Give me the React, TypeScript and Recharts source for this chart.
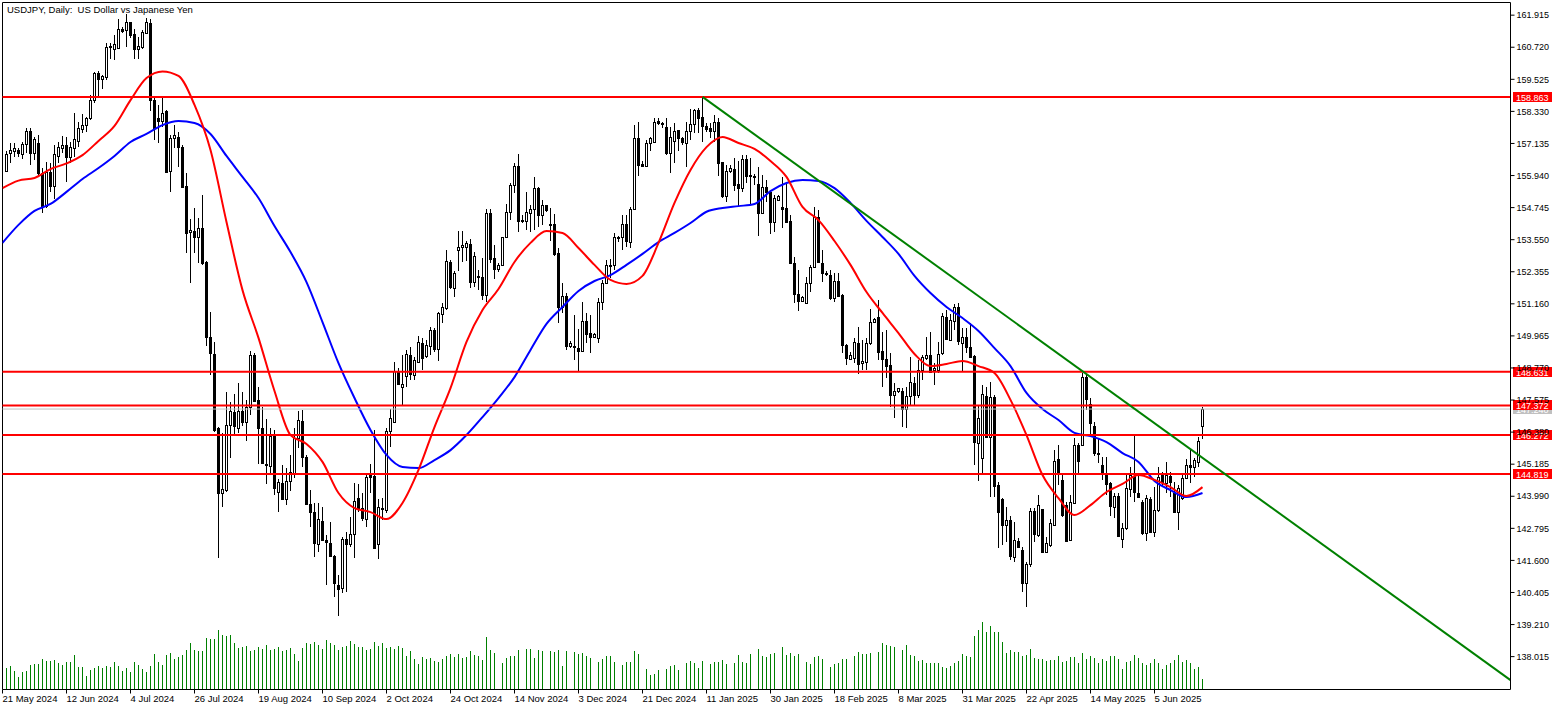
/**
 * USDJPY daily candles with two moving averages, tick volume,
 * support / resistance levels and a falling trend line.
 */

import { Bar, ComposedChart, Line, ReferenceLine, XAxis, YAxis } from "recharts";

const opens = [
  156.12,156.77,156.87,156.89,156.74,157.10,157.60,156.77,157.14,156.02,
  154.80,156.08,155.55,156.67,156.97,157.07,156.64,156.95,157.24,157.69,
  157.81,158.07,158.75,159.75,159.52,159.60,160.77,160.67,160.70,161.39,
  161.36,161.65,161.21,160.67,160.74,161.24,161.61,158.75,158.07,157.98,
  158.34,156.12,157.33,157.36,157.02,155.55,153.84,153.87,153.64,153.97,
  152.71,149.91,149.29,146.52,144.10,144.23,146.63,147.12,146.52,147.17,
  146.77,147.31,149.26,147.58,146.52,145.19,145.12,146.27,144.16,144.47,
  143.88,144.55,144.87,146.15,146.81,145.44,143.70,143.39,142.20,143.06,
  142.36,142.24,141.77,140.69,140.56,142.39,142.20,142.57,143.92,143.54,
  143.13,144.78,144.75,142.20,143.57,143.48,146.42,146.77,148.67,148.07,
  148.47,149.24,148.51,148.98,149.69,149.23,149.59,150.18,149.46,150.77,
  151.02,152.71,151.74,153.15,153.26,153.26,153.38,151.97,152.18,152.15,
  151.50,154.53,152.85,152.47,152.61,153.64,154.57,155.57,156.30,154.28,
  154.26,154.56,154.68,155.49,154.47,154.83,154.12,154.12,153.04,151.05,
  151.45,149.59,149.58,149.50,149.41,150.51,150.06,149.94,149.87,151.22,
  151.92,152.59,152.61,153.64,153.64,154.13,153.48,154.68,157.33,156.36,
  156.30,157.14,157.20,157.97,157.89,157.74,156.79,157.24,157.62,157.33,
  157.14,157.61,157.85,158.38,158.11,157.80,157.70,157.61,157.95,156.43,
  155.18,156.11,156.18,155.61,155.49,156.56,155.96,155.93,155.61,154.56,
  155.50,155.34,154.22,155.03,154.78,154.72,154.23,152.69,151.51,151.28,
  151.18,151.93,152.54,154.41,152.69,152.30,152.22,151.36,152.01,151.49,
  149.63,149.10,149.15,149.69,148.94,149.00,149.69,150.50,150.66,149.40,
  149.09,148.88,147.76,147.91,147.91,147.23,147.74,148.22,147.76,148.69,
  149.15,149.25,148.69,148.69,149.32,150.66,149.81,150.53,151.03,149.69,
  149.91,149.56,149.22,145.99,145.40,147.72,146.19,147.70,144.41,143.88,
  142.92,143.10,141.74,142.32,141.99,140.75,141.45,143.44,142.55,143.51,
  141.92,142.17,142.92,145.38,144.60,143.66,142.36,143.73,145.90,145.90,
  148.45,147.41,146.62,145.60,145.17,144.81,144.47,143.60,144.00,142.40,
  142.79,144.26,144.76,144.13,143.76,142.61,143.89,142.67,143.48,144.79,
  144.47,144.76,144.13,143.41,143.91,144.66,145.17,145.07,145.28,146.62,
];

const highs = [
  156.87,157.14,157.16,156.95,157.20,157.70,157.70,157.39,157.45,156.21,
  156.46,156.39,157.08,157.20,157.41,157.36,157.20,158.26,157.95,158.23,
  158.13,158.94,159.81,159.85,159.69,160.87,160.87,161.18,161.76,161.49,
  161.96,161.67,161.39,161.11,161.36,161.80,161.76,158.88,158.57,158.82,
  158.38,157.45,157.82,157.57,157.08,156.02,154.31,154.72,154.35,155.21,
  152.75,150.87,149.75,146.58,146.34,147.89,147.52,147.79,148.20,147.89,
  147.58,149.40,149.32,148.05,147.33,146.86,146.52,146.46,144.64,145.16,
  145.03,145.53,146.52,147.17,147.21,145.53,144.23,143.75,143.73,143.60,
  142.55,143.02,141.80,141.06,142.49,142.67,143.23,144.47,144.45,144.10,
  144.85,145.19,146.46,143.88,143.92,146.52,147.24,148.98,148.76,149.25,
  149.44,149.54,149.19,149.96,149.87,149.81,150.31,150.25,150.87,151.20,
  153.17,152.79,152.40,153.87,153.87,153.50,153.58,153.08,152.42,152.85,
  154.68,154.68,153.35,152.67,153.66,154.88,155.65,156.42,156.74,154.47,
  155.34,154.84,155.90,155.52,155.03,154.84,154.72,154.49,153.23,151.92,
  151.55,149.77,150.74,150.22,151.22,150.83,150.74,150.06,151.36,152.05,
  152.79,152.82,153.79,153.69,154.47,154.47,154.78,157.82,157.92,156.50,
  157.26,157.39,158.07,158.07,157.95,158.07,157.76,157.88,157.64,157.39,
  157.95,158.41,158.42,158.44,158.88,157.88,157.88,158.20,158.07,156.46,
  156.33,156.33,156.58,156.49,156.70,156.70,156.58,156.00,156.25,155.96,
  155.77,155.40,155.21,155.21,155.87,155.71,154.47,152.92,152.42,151.45,
  152.17,152.61,154.78,154.66,153.17,152.38,152.42,152.30,152.32,151.53,
  149.66,149.38,149.87,150.28,149.81,149.87,150.95,150.62,151.30,150.12,
  150.18,149.31,148.20,148.04,148.01,148.07,149.19,148.45,149.07,149.25,
  149.94,150.12,148.94,149.75,150.81,150.93,150.78,151.15,151.18,150.25,
  150.25,150.43,149.25,147.39,148.14,148.07,148.26,147.76,144.53,143.91,
  143.60,143.25,143.04,142.42,142.11,141.55,143.54,143.54,144.04,143.51,
  142.48,143.13,145.71,145.90,144.78,143.79,144.04,146.17,145.96,148.59,
  148.51,147.64,146.77,146.15,145.46,145.46,144.53,144.10,144.10,142.98,
  144.82,145.07,146.23,144.78,143.85,144.04,143.97,144.35,145.09,144.91,
  145.27,144.91,144.53,144.41,144.78,145.38,145.71,145.40,146.21,147.33,
];

const lows = [
  156.10,156.40,156.64,156.64,156.54,156.77,156.33,156.52,155.96,154.53,
  154.72,155.34,155.05,156.39,156.79,155.71,156.39,156.64,157.02,157.51,
  157.57,158.01,158.63,158.88,159.15,159.50,160.27,160.24,160.68,161.24,
  160.74,161.05,160.27,160.27,160.65,161.21,158.36,157.26,157.14,157.76,
  156.02,155.34,156.95,156.27,155.50,153.04,151.92,153.04,152.67,152.61,
  149.57,148.51,146.40,141.68,143.60,144.16,145.41,146.31,146.34,146.59,
  146.06,147.02,147.52,145.18,145.18,144.44,144.85,144.04,143.42,143.90,
  143.67,144.20,144.66,145.78,145.09,143.67,142.83,141.74,141.93,142.36,
  140.69,141.74,140.25,139.54,140.40,140.44,142.11,141.70,143.42,143.05,
  142.86,144.10,142.01,141.64,143.11,143.36,145.82,146.71,148.14,147.39,
  148.07,148.32,148.32,148.94,148.69,149.13,149.25,149.38,149.04,150.43,
  150.93,151.70,151.43,152.40,152.73,152.76,151.74,151.77,151.67,151.30,
  151.24,152.67,152.09,152.36,152.57,153.60,154.28,155.30,153.85,154.16,
  153.91,153.85,153.91,154.03,154.10,154.59,153.50,152.94,150.43,150.80,
  149.44,149.50,149.07,148.63,149.38,149.69,149.34,149.87,149.69,150.93,
  151.90,152.11,152.42,153.48,153.17,153.27,153.23,154.66,155.92,156.25,
  156.27,156.85,157.18,157.82,157.70,156.70,156.02,156.42,156.85,157.08,
  156.25,157.26,157.51,157.51,157.20,157.57,157.33,157.20,155.92,155.09,
  154.97,156.02,155.36,154.78,155.34,155.68,154.84,155.59,153.69,154.51,
  154.97,153.76,153.85,154.99,153.97,154.16,152.64,151.18,150.91,151.24,
  151.15,151.61,152.52,152.67,151.99,152.20,151.30,151.24,151.43,149.32,
  148.88,149.07,148.94,148.55,148.70,148.70,149.63,150.43,149.07,148.07,
  148.38,147.33,146.89,147.83,146.58,146.52,147.39,147.39,147.64,148.32,
  149.07,148.61,148.14,148.57,149.25,149.81,149.79,150.18,149.63,148.63,
  149.31,149.13,145.15,144.54,144.84,146.15,143.97,143.97,142.05,142.17,
  142.30,141.62,141.55,142.09,140.44,139.85,141.37,142.30,142.48,141.89,
  141.89,142.09,142.89,144.41,143.20,142.33,142.33,143.70,144.84,145.86,
  147.20,146.27,145.49,145.22,144.60,144.04,143.25,143.17,142.48,142.07,
  142.73,143.97,143.79,143.91,142.55,142.32,142.61,142.48,143.41,144.35,
  144.10,143.97,143.35,142.73,143.85,144.62,144.47,144.72,145.07,146.11,
];

const closes = [
  156.73,156.88,156.95,156.77,157.11,157.60,156.77,157.30,156.02,154.80,
  156.08,155.55,156.74,156.99,157.07,156.64,157.02,157.29,157.70,157.81,
  158.10,158.75,159.75,159.52,159.65,160.74,160.72,160.83,161.39,161.34,
  161.65,161.19,160.67,160.77,161.28,161.65,158.75,157.70,157.98,158.26,
  156.07,157.33,157.44,156.99,155.53,153.81,153.91,153.66,153.97,152.67,
  149.94,149.32,146.46,144.10,144.25,146.63,147.17,146.59,147.17,146.77,
  147.31,149.26,147.54,146.52,145.22,145.17,146.24,144.28,144.51,143.90,
  144.55,144.91,146.15,146.83,145.44,143.69,143.39,142.24,143.13,142.36,
  142.30,141.78,140.77,140.54,142.39,142.21,142.57,143.80,143.54,143.17,
  144.72,144.72,142.05,143.58,143.53,146.44,146.91,148.67,148.16,148.16,
  149.29,148.53,149.07,149.72,149.15,149.62,150.18,149.46,150.81,151.05,
  152.76,151.80,152.30,153.26,153.34,153.41,151.99,152.95,152.15,151.50,
  154.53,152.84,152.47,152.61,153.64,154.57,155.57,156.30,154.26,154.26,
  154.57,154.68,155.46,154.47,154.83,154.66,154.11,153.02,151.05,151.45,
  149.59,149.69,149.54,149.41,150.51,150.04,149.94,150.02,151.22,151.92,
  152.61,152.62,153.64,153.60,154.12,153.51,154.68,157.33,156.33,156.31,
  157.14,157.33,157.95,157.89,157.86,156.79,157.36,157.61,157.33,157.18,
  157.61,157.85,158.38,158.10,157.80,157.66,157.61,157.95,156.42,155.18,
  156.12,156.21,155.59,155.49,156.54,155.92,155.92,155.91,154.56,155.50,
  155.33,154.22,155.09,155.18,154.68,154.22,152.67,151.51,151.28,151.43,
  151.93,152.54,154.41,152.72,152.30,152.28,151.39,152.01,151.45,149.63,
  149.13,149.25,149.73,148.92,149.04,149.69,150.50,150.60,149.38,149.09,
  148.84,147.76,147.92,148.01,147.23,147.74,148.23,147.76,148.69,149.17,
  149.24,148.63,148.76,149.29,150.71,149.85,150.56,151.03,149.79,149.91,
  149.56,149.19,146.02,146.89,147.79,146.19,147.68,144.39,143.42,142.93,
  143.10,141.77,142.36,142.11,140.75,141.47,143.44,142.57,143.66,141.92,
  142.24,142.98,145.30,144.91,143.29,142.33,143.79,145.90,145.30,148.45,
  147.60,146.71,145.59,145.58,144.84,144.45,143.64,144.00,142.52,142.79,
  144.28,144.78,144.16,143.97,142.61,143.91,142.66,143.48,144.72,144.53,
  144.78,144.51,143.41,144.28,144.66,145.17,145.07,145.34,146.05,147.24,
];

// tick volume
const volumes = [
  22,24,19,13,18,19,25,26,26,31,29,29,30,27,25,28,28,35,23,23,
  14,20,22,24,22,24,23,28,24,19,22,18,28,25,21,18,24,36,28,25,
  35,37,31,33,35,40,47,40,39,39,52,51,51,60,55,54,55,47,42,43,
  44,39,40,43,41,45,40,41,43,39,40,42,36,29,42,47,46,48,45,41,
  50,47,45,40,43,44,49,46,43,43,40,41,48,44,47,42,43,41,44,42,
  34,39,31,26,33,31,32,29,28,31,34,36,33,36,32,33,39,35,34,30,
  53,40,37,0,27,32,34,34,40,0,41,41,32,40,39,0,39,38,40,24,
  39,1,38,36,37,34,32,0,28,31,34,34,28,0,25,28,28,39,36,0,
  21,15,16,20,0,21,24,25,20,0,27,29,27,22,29,0,26,28,28,30,
  26,0,27,35,28,27,36,0,41,34,33,36,37,1,43,35,37,34,36,0,
  28,26,33,34,31,0,23,26,27,31,31,0,34,38,36,36,37,0,38,47,
  45,44,43,0,40,45,35,34,29,30,27,27,27,27,23,22,24,27,29,36,
  34,33,54,60,68,58,64,58,58,48,37,40,38,38,34,35,41,32,31,31,
  29,30,30,34,28,29,33,33,27,37,31,34,32,27,31,29,34,34,31,21,
  28,29,35,32,27,25,27,31,27,21,25,27,30,35,28,30,27,21,23,11,
];

// moving averages every fourth bar, from bar -1 to bar 299
const fastMa = [
  155.47,155.75,155.85,156.18,156.39,156.70,157.23,157.79,158.75,159.57,
  159.82,159.65,158.57,156.89,154.21,151.67,149.89,147.91,146.27,145.94,
  145.27,144.11,143.55,143.40,143.14,143.74,144.97,146.57,148.02,149.74,
  150.93,151.71,152.72,153.43,153.87,153.80,153.24,152.61,152.05,151.90,
  152.20,153.43,154.92,156.15,157.00,157.38,157.15,156.93,156.48,155.89,
  154.77,154.28,153.50,152.61,151.60,150.82,150.07,149.29,148.84,148.92,
  149.03,148.84,148.58,147.58,146.27,144.78,143.92,143.29,143.66,144.15,
  144.45,144.78,144.60,144.33,144.00,144.33,
];

const slowMa = [
  153.43,154.10,154.62,154.88,155.33,155.81,156.22,156.67,157.19,157.49,
  157.82,157.97,157.90,157.49,156.67,155.89,155.10,154.06,153.09,151.97,
  150.48,148.95,147.65,146.46,145.53,145.08,145.04,145.34,145.71,146.27,
  146.94,147.65,148.43,149.44,150.41,151.04,151.64,152.01,152.23,152.61,
  153.02,153.46,153.80,154.17,154.59,154.73,154.80,154.88,155.36,155.66,
  155.77,155.74,155.47,154.92,154.25,153.65,153.02,152.20,151.56,151.04,
  150.63,150.15,149.51,148.84,147.84,147.24,146.83,146.35,146.23,146.01,
  145.60,145.27,144.56,144.22,143.96,144.11,
];

const levels = [158.863, 148.631, 147.372, 146.272, 144.819];
const lastPrice = 147.24;
const trendStart = { x: 174, y: 158.87 };
const trendEnd = { x: 376, y: 137.14 };

const priceTicks = [
  161.915, 160.72, 159.525, 158.33, 157.135, 155.94, 154.745, 153.55, 152.355, 151.16, 149.965,
  148.77, 147.575, 146.38, 145.185, 143.99, 142.795, 141.6, 140.405, 139.21, 138.015,
];

const dateTicks = [-1, 15, 31, 47, 63, 79, 95, 111, 127, 143, 159, 175, 191, 207, 223, 239, 255, 271, 287];
const dateLabels = [
  "21 May 2024", "12 Jun 2024", "4 Jul 2024", "26 Jul 2024", "19 Aug 2024", "10 Sep 2024", "2 Oct 2024",
  "24 Oct 2024", "14 Nov 2024", "3 Dec 2024", "21 Dec 2024", "11 Jan 2025", "30 Jan 2025", "18 Feb 2025",
  "8 Mar 2025", "31 Mar 2025", "22 Apr 2025", "14 May 2025", "5 Jun 2025",
];

const rows = opens.map((open, i) => ({
  x: i,
  open,
  close: closes[i],
  high: highs[i],
  low: lows[i],
  range: [lows[i], highs[i]],
  volume: volumes[i],
}));

const maRows = fastMa.map((fast, k) => ({ x: k * 4 - 1, fast, slow: slowMa[k] }));

const FONT = '"Liberation Sans", Arial, sans-serif';
const PRICE_MIN = 136.79;
const PRICE_MAX = 162.387;

function Candle(props: any) {
  const { x, y, width, height, payload } = props;
  if (!payload || height == null) return null;
  const { open, close, high, low } = payload;
  const perUnit = height / (high - low);
  const yOf = (p: number) => y + (high - p) * perUnit;
  const cx = Math.floor(x + width / 2) + 0.5;
  const top = Math.round(yOf(Math.max(open, close))) + 0.5;
  const bottom = Math.round(yOf(Math.min(open, close))) + 0.5;
  const up = close >= open;
  return (
    <g shapeRendering="crispEdges">
      <line x1={cx} x2={cx} y1={Math.round(y)} y2={Math.round(y + height)} stroke="#000" />
      <rect
        x={cx - 1}
        y={top}
        width={2}
        height={Math.max(bottom - top, 1)}
        fill={up ? "#fff" : "#000"}
        stroke="#000"
      />
    </g>
  );
}

function VolumeBar(props: any) {
  const { x, y, width, height } = props;
  if (!height) return null;
  return (
    <rect
      x={Math.floor(x + width / 2)}
      y={y}
      width={1}
      height={height}
      fill="#008000"
      shapeRendering="crispEdges"
    />
  );
}

function PriceTag({ viewBox, value, color }: any) {
  const right = viewBox.x + viewBox.width;
  const y = Math.round(viewBox.y);
  return (
    <g>
      <rect x={right + 2.5} y={y - 5} width={39} height={10} fill={color} shapeRendering="crispEdges" />
      <text x={right + 5.5} y={y + 3.5} fill="#fff" fontSize={9} fontFamily={FONT}>
        {value}
      </text>
    </g>
  );
}

function DateTick({ x, y, payload }: any) {
  return (
    <text x={x} y={y + 6} fill="#000" fontSize={9.5} fontFamily={FONT} textAnchor="start">
      {dateLabels[dateTicks.indexOf(payload.value)]}
    </text>
  );
}

export default function App() {
  return (
    <div style={{ position: "relative", width: 1563, height: 710, background: "#fff" }}>
      <style>{"body{margin:0}"}</style>
      <ComposedChart
        width={1563}
        height={710}
        data={rows}
        margin={{ top: 2.5, right: 0, bottom: 0, left: 2.5 }}
      >
        <XAxis
          xAxisId="time"
          dataKey="x"
          type="number"
          domain={[-1, 376]}
          ticks={dateTicks}
          interval={0}
          height={20.5}
          tickSize={4}
          tickLine={{ stroke: "#000" }}
          axisLine={{ stroke: "#000" }}
          tick={<DateTick />}
          allowDataOverflow
        />
        <XAxis xAxisId="vol" dataKey="x" type="number" domain={[-1, 376]} hide allowDataOverflow />
        <YAxis
          yAxisId="price"
          orientation="right"
          type="number"
          domain={[PRICE_MIN, PRICE_MAX]}
          ticks={priceTicks}
          interval={0}
          width={52.5}
          tickSize={4}
          tickMargin={2}
          tickLine={{ stroke: "#000" }}
          axisLine={{ stroke: "#000" }}
          tick={{ fill: "#000", fontSize: 9, fontFamily: FONT }}
          tickFormatter={(v: number) => v.toFixed(3)}
          allowDataOverflow
        />
        <YAxis yAxisId="vol" type="number" domain={[0, 687]} hide allowDataOverflow />

        <ReferenceLine xAxisId="time" yAxisId="price" x={-1} stroke="#000" />
        <ReferenceLine xAxisId="time" yAxisId="price" y={PRICE_MAX} stroke="#000" />

        <Bar
          xAxisId="vol"
          yAxisId="vol"
          dataKey="volume"
          barSize={1}
          shape={<VolumeBar />}
          isAnimationActive={false}
        />
        <Bar
          xAxisId="time"
          yAxisId="price"
          dataKey="range"
          barSize={3}
          shape={<Candle />}
          isAnimationActive={false}
        />

        <Line
          xAxisId="time"
          yAxisId="price"
          data={maRows}
          dataKey="slow"
          type="monotone"
          stroke="#0000ff"
          strokeWidth={2}
          dot={false}
          isAnimationActive={false}
        />
        <Line
          xAxisId="time"
          yAxisId="price"
          data={maRows}
          dataKey="fast"
          type="monotone"
          stroke="#ff0000"
          strokeWidth={2}
          dot={false}
          isAnimationActive={false}
        />

        <ReferenceLine
          xAxisId="time"
          yAxisId="price"
          y={lastPrice}
          stroke="#c0c0c0"
          label={<PriceTag value={lastPrice.toFixed(3)} color="#c0c0c0" />}
        />
        {levels.map((level) => (
          <ReferenceLine
            key={level}
            xAxisId="time"
            yAxisId="price"
            y={level}
            stroke="#ff0000"
            strokeWidth={2}
            label={<PriceTag value={level.toFixed(3)} color="#ff0000" />}
          />
        ))}
        <ReferenceLine
          xAxisId="time"
          yAxisId="price"
          segment={[trendStart, trendEnd]}
          stroke="#008000"
          strokeWidth={2}
        />
      </ComposedChart>
      <div
        style={{
          position: "absolute",
          left: 7,
          top: 3,
          fontFamily: FONT,
          fontSize: 9.5,
          lineHeight: "13px",
          whiteSpace: "pre",
          color: "#000",
        }}
      >
        {"USDJPY, Daily:  US Dollar vs Japanese Yen"}
      </div>
    </div>
  );
}
